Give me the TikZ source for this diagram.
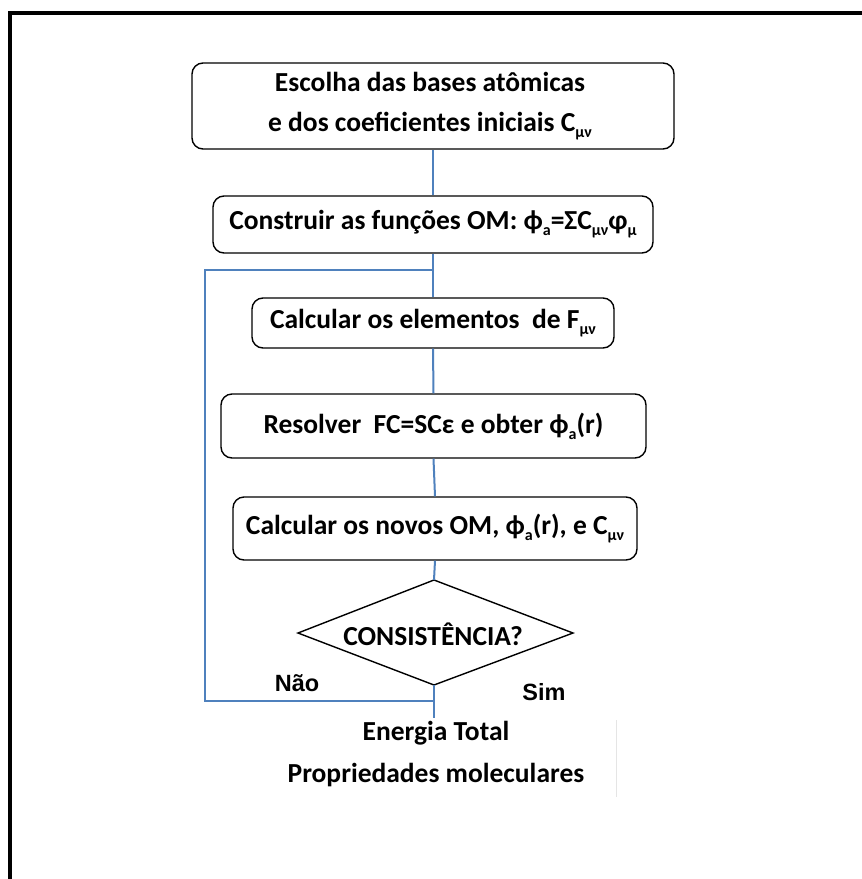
\documentclass[tikz,border=0pt]{standalone}
\usepackage{fontspec}
\setmainfont{Carlito}
\newfontfamily\arialfont{Liberation Sans}
\usetikzlibrary{shapes.geometric}
\newcommand\lo[1]{\raisebox{-0.45ex}{\fontsize{16}{16}\selectfont #1}}
\begin{document}
\begin{tikzpicture}[x=1pt,y=-1pt,
  stepbox/.style={draw=black,line width=1.4pt,rounded corners=11pt,fill=white,inner sep=0pt},
  txt/.style={font=\fontsize{27.5}{27.5}\selectfont\bfseries},
  lab/.style={font=\arialfont\fontsize{23.5}{23.5}\selectfont\bfseries},
  link/.style={draw={rgb,255:red,79;green,129;blue,189},line width=2pt},
  frame/.style={draw=black,line width=4.5pt}]
\useasboundingbox (0,0) rectangle (862,879);
\fill[white] (0,0) rectangle (862,879);
% outer frame
\coordinate (fa) at (10,879);
\coordinate (fb) at (10,13);
\coordinate (fc) at (862,13);
\draw[frame] (fa) -- (fb) -- (fc);
% boxes
\node[stepbox,minimum width=482pt,minimum height=86pt] (b1) at (433,106) {};
\node[txt] at (430,82) {Escolha das bases atômicas};
\node[txt] at (430,126) {e dos coeficientes iniciais C\lo{μν}};
\node[stepbox,minimum width=440pt,minimum height=57pt,txt] (b2) at (433,224.5) {Construir as funções OM: ϕ\lo{a}=ΣC\lo{μν}φ\lo{μ}};
\node[stepbox,minimum width=362pt,minimum height=50pt,txt] (b3) at (433,323) {Calcular os elementos~~de F\lo{μν}};
\node[stepbox,minimum width=425pt,minimum height=64pt,txt] (b4) at (433.5,426) {Resolver~~FC=SCε e obter ϕ\lo{a}(r)};
\node[stepbox,minimum width=404pt,minimum height=63pt,txt] (b5) at (435,528.5) {Calcular os novos OM, ϕ\lo{a}(r), e C\lo{μν}};
% diamond
\coordinate (dt) at (434,580);
\coordinate (dl) at (298,633);
\coordinate (dr) at (573,633);
\coordinate (db) at (434,685);
\draw[line width=1.4pt] (dt) -- (dr) -- (db) -- (dl) -- cycle;
\node[txt] (dq) at (433,634) {CONSISTÊNCIA?};
% connectors
\coordinate (j1) at (434,270);
\coordinate (l1) at (205,270);
\coordinate (l2) at (205,701);
\coordinate (j2) at (434,701);
\coordinate (end) at (434,718);
\draw[link] (b1.south) -- (b2.north);
\draw[link] (b2.south) -- (b3.north);
\draw[link] (b3.south) -- (b4.north);
\draw[link] (b4.south) -- (b5.north);
\draw[link] (b5.south) -- (dt);
\draw[link] (db) -- (end);
\draw[link] (j1) -- (l1) -- (l2) -- (j2);
% labels
\node[lab] (nao) at (297,683) {Não};
\node[lab] (sim) at (544,692) {Sim};
\node[txt] (et) at (436,733) {Energia Total};
\node[txt] (pm) at (436,775) {Propriedades moleculares};
\coordinate (g1) at (616,720);
\coordinate (g2) at (616,797);
\draw[black!10,line width=0.6pt] (g1) -- (g2);
\end{tikzpicture}
\end{document}
